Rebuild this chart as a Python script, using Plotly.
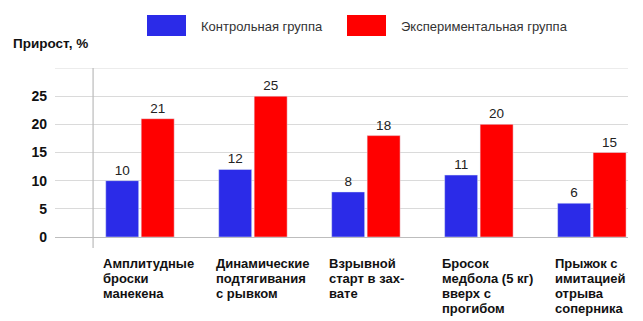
import plotly.graph_objects as go

categories = [
    "Амплитудные\nброски\nманекена",
    "Динамические\nподтягивания\nс рывком",
    "Взрывной\nстарт в зах-\nвате",
    "Бросок\nмедбола (5 кг)\nвверх с\nпрогибом",
    "Прыжок с\nимитацией\nотрыва\nсоперника",
]
series_names = ["Контрольная группа", "Экспериментальная группа"]
control = [10, 12, 8, 11, 6]
experimental = [21, 25, 18, 20, 15]
y_ticks = [0, 5, 10, 15, 20, 25]
y_title = "Прирост, %"

BLUE = "#2B2BE8"
RED = "#FF0000"
FONT = "Liberation Sans, Arial, sans-serif"

idx = list(range(len(categories)))

fig = go.Figure()
fig.add_trace(go.Bar(x=idx, y=control, name=series_names[0], marker_color=BLUE,
                     text=control, textposition="outside",
                     textfont=dict(size=13.5, color="#222", family=FONT), cliponaxis=False))
fig.add_trace(go.Bar(x=idx, y=experimental, name=series_names[1], marker_color=RED,
                     text=experimental, textposition="outside",
                     textfont=dict(size=13.5, color="#222", family=FONT), cliponaxis=False))

W, H = 643, 321
ml, mr, mt, mb = 55, 15, 68, 84
ph = H - mt - mb
pw = W - ml - mr

fig.update_layout(
    width=W, height=H,
    margin=dict(l=ml, r=mr, t=mt, b=mb),
    barmode="group", bargap=0.372, bargroupgap=0.07,
    paper_bgcolor="white", plot_bgcolor="white",
    showlegend=False,
    font=dict(family=FONT, size=13, color="#111"),
    xaxis=dict(range=[-0.752, 4.32], showticklabels=False, showgrid=False,
               zeroline=False, showline=False, fixedrange=True),
    yaxis=dict(range=[0, 30], tickvals=y_ticks, ticktext=[str(v) for v in y_ticks],
               tickfont=dict(size=14, family=FONT, color="#111", weight="bold"),
               showgrid=True, gridcolor="#DADADA", gridwidth=1,
               zeroline=True, zerolinecolor="#BDBDBD", zerolinewidth=1,
               ticks="", ticklabelstandoff=7, showline=False),
)
# extra gridline at top (30)
fig.add_shape(type="line", xref="paper", yref="y", x0=0, x1=1, y0=30, y1=30,
              line=dict(color="#DADADA", width=1), layer="below")
# vertical axis line
fig.add_shape(type="line", xref="x", yref="paper", x0=-0.415, x1=-0.415,
              y0=-11 / ph, y1=1, line=dict(color="#BBBBBB", width=1.2))

# category labels (bold, left aligned, multiple lines)
for i, lab in enumerate(categories):
    for j, line in enumerate(lab.split("\n")):
        fig.add_annotation(x=i - 0.345, y=-(26 / ph), xref="x", yref="paper",
                           text=line, showarrow=False, xanchor="left", yanchor="middle",
                           yshift=-15 * j,
                           font=dict(size=13, family=FONT, color="#111", weight="bold"))

# y title
fig.add_annotation(x=(11 - ml) / pw, y=(H - mb - 44) / ph, xref="paper", yref="paper",
                   xanchor="left", yanchor="middle", text=y_title, showarrow=False,
                   font=dict(size=13.5, family=FONT, color="#111", weight="bold"))

# manual legend
legend_items = [(series_names[0], BLUE, 147), (series_names[1], RED, 347)]
for name, col, px in legend_items:
    fig.add_shape(type="rect", xref="paper", yref="paper",
                  x0=(px - ml) / pw, x1=(px + 39 - ml) / pw,
                  y0=(H - mb - 36) / ph, y1=(H - mb - 15) / ph,
                  fillcolor=col, line=dict(width=0))
    fig.add_annotation(x=(px + 52 - ml) / pw, y=(H - mb - 26) / ph,
                       xref="paper", yref="paper", xanchor="left", yanchor="middle",
                       text=name, showarrow=False,
                       font=dict(size=13, family=FONT, color="#333"))

fig.write_html("out.html")
